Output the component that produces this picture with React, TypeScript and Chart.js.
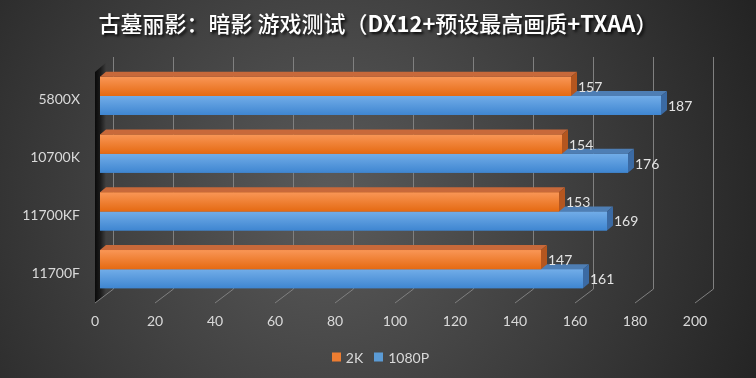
import React, { useEffect, useRef } from "react";
import { Chart, registerables } from "chart.js";
Chart.register(...registerables);

const W = 756;
const H = 378;

const titleText = "古墓丽影：暗影 游戏测试（DX12+预设最高画质+TXAA）";
const categories = ["5800X", "10700K", "11700KF", "11700F"];
const seriesNames = ["2K", "1080P"];
const series2K = [157, 154, 153, 147];
const series1080P = [187, 176, 169, 161];
const xMin = 0;
const xMax = 200;
const xStep = 20;

const FONT = "Lato, 'Noto Sans', sans-serif";
const TEXT_COLOR = "#d9d9d9";

const palette = [
  { legend: "#ED7D31", top: "#C8693A", side: "#B4561F", g0: "#F99656", g1: "#E56A12" },
  { legend: "#5B9BD5", top: "#4E7EB4", side: "#3B6AA3", g0: "#72ADE8", g1: "#3F86D1" },
];

const DX = 6; // bar depth x
const DY = 5; // bar depth y

function splitRuns(s: string) {
  const runs: { text: string; latin: boolean }[] = [];
  for (const ch of s) {
    const latin = /[A-Za-z0-9+]/.test(ch);
    const last = runs[runs.length - 1];
    if (last && last.latin === latin) last.text += ch;
    else runs.push({ text: ch, latin });
  }
  return runs;
}

const decor = {
  id: "decor",
  beforeDraw(chart: any) {
    const { ctx, width, height } = chart;
    ctx.save();
    const g = ctx.createRadialGradient(330, 200, 0, 330, 200, 480);
    g.addColorStop(0, "#5b5b5b");
    g.addColorStop(1, "#222222");
    ctx.fillStyle = g;
    ctx.fillRect(0, 0, width, height);
    ctx.restore();
  },
  beforeDatasetsDraw(chart: any) {
    const { ctx, chartArea: a, scales } = chart;
    const x = scales.x;
    const x0 = x.getPixelForValue(xMin);
    const fb = a.bottom + 5;
    const bb = a.bottom - 9;
    const bt = a.top - 10;
    const ft = a.top + 5;
    ctx.save();
    const lg = ctx.createLinearGradient(x0 - 6, 0, x0 + 6, 0);
    lg.addColorStop(0, "rgba(0,0,0,0.9)");
    lg.addColorStop(0.55, "rgba(0,0,0,0.55)");
    lg.addColorStop(1, "rgba(0,0,0,0)");
    ctx.fillStyle = lg;
    ctx.beginPath();
    ctx.moveTo(x0 - 5, ft);
    ctx.lineTo(x0 + 12.5, bt);
    ctx.lineTo(x0 + 12.5, bb);
    ctx.lineTo(x0 - 5, fb);
    ctx.closePath();
    ctx.fill();
    ctx.strokeStyle = "#808080";
    ctx.lineWidth = 1;
    for (const t of x.ticks) {
      const p = x.getPixelForValue(t.value);
      const bx = Math.round(p + 12.5) + 0.5;
      ctx.beginPath();
      ctx.moveTo(bx, bt);
      ctx.lineTo(bx, bb);
      ctx.lineTo(p - 5, fb);
      ctx.stroke();
    }
    ctx.restore();
  },
  afterDatasetDraw(chart: any, args: any) {
    const { ctx } = chart;
    const col = palette[args.index];
    ctx.save();
    for (const el of args.meta.data) {
      const { x, y, base, height } = el.getProps(["x", "y", "base", "height"], true);
      const l = Math.min(x, base);
      const r = Math.max(x, base);
      const t = y - height / 2;
      const b = y + height / 2;
      const g = ctx.createLinearGradient(0, t, 0, b);
      g.addColorStop(0, col.g0);
      g.addColorStop(1, col.g1);
      ctx.fillStyle = g;
      ctx.fillRect(l, t, r - l, b - t);
      ctx.fillStyle = col.top;
      ctx.beginPath();
      ctx.moveTo(l, t);
      ctx.lineTo(l + DX, t - DY);
      ctx.lineTo(r + DX, t - DY);
      ctx.lineTo(r, t);
      ctx.closePath();
      ctx.fill();
      ctx.fillStyle = col.side;
      ctx.beginPath();
      ctx.moveTo(r, t);
      ctx.lineTo(r + DX, t - DY);
      ctx.lineTo(r + DX, b - DY);
      ctx.lineTo(r, b);
      ctx.closePath();
      ctx.fill();
    }
    ctx.restore();
  },
  afterDatasetsDraw(chart: any) {
    const { ctx } = chart;
    ctx.save();
    ctx.font = `14px ${FONT}`;
    ctx.fillStyle = "#e3e3e3";
    ctx.textAlign = "left";
    ctx.textBaseline = "middle";
    chart.data.datasets.forEach((ds: any, i: number) => {
      const meta = chart.getDatasetMeta(i);
      meta.data.forEach((el: any, j: number) => {
        const { x, y } = el.getProps(["x", "y"], true);
        ctx.fillText(String(ds.data[j]), x + DX + 1, y + 1);
      });
    });
    ctx.restore();
  },
  afterDraw(chart: any) {
    const { ctx } = chart;
    ctx.save();
    const cjkFont = `500 22px 'Noto Sans CJK SC', sans-serif`;
    const latFont = `bold 22px 'Noto Sans CJK SC', 'Open Sans', sans-serif`;
    const runs = splitRuns(titleText);
    const widths = runs.map((r) => {
      ctx.font = r.latin ? latFont : cjkFont;
      return ctx.measureText(r.text).width;
    });
    const total = widths.reduce((a, b) => a + b, 0);
    let tx = 378 - total / 2;
    ctx.textAlign = "left";
    ctx.textBaseline = "middle";
    ctx.shadowColor = "rgba(0,0,0,0.85)";
    ctx.shadowOffsetX = 2;
    ctx.shadowOffsetY = 2;
    ctx.shadowBlur = 3;
    ctx.fillStyle = "#ffffff";
    runs.forEach((r, i) => {
      ctx.font = r.latin ? latFont : cjkFont;
      ctx.fillText(r.text, tx, 24);
      tx += widths[i];
    });
    ctx.restore();

    ctx.save();
    ctx.font = `14px ${FONT}`;
    ctx.textBaseline = "middle";
    ctx.textAlign = "left";
    const box = 9;
    const gap = 5;
    const itemGap = 11;
    const labels = chart.data.datasets.map((d: any) => d.label);
    const lw = labels.map((l: string) => ctx.measureText(l).width);
    let sum = 0;
    lw.forEach((w: number, i: number) => {
      sum += box + gap + w + (i < lw.length - 1 ? itemGap : 0);
    });
    let cx = 380.5 - sum / 2;
    const cy = 357;
    labels.forEach((l: string, i: number) => {
      ctx.fillStyle = palette[i].legend;
      ctx.fillRect(Math.round(cx), cy - 4.5, box, box);
      ctx.fillStyle = TEXT_COLOR;
      ctx.fillText(l, cx + box + gap, cy + 1);
      cx += box + gap + lw[i] + itemGap;
    });
    ctx.restore();
  },
};

export default function App() {
  const ref = useRef<HTMLCanvasElement>(null);
  useEffect(() => {
    const canvas = ref.current!;
    const chart = new Chart(canvas, {
      type: "bar",
      data: {
        labels: categories,
        datasets: [
          { label: seriesNames[0], data: series2K, backgroundColor: palette[0].g1, borderWidth: 0, categoryPercentage: 0.66, barPercentage: 1 },
          { label: seriesNames[1], data: series1080P, backgroundColor: palette[1].g1, borderWidth: 0, categoryPercentage: 0.66, barPercentage: 1 },
        ],
      },
      options: {
        indexAxis: "y",
        animation: false,
        responsive: false,
        devicePixelRatio: 1,
        layout: { padding: { left: 0, right: 56, top: 67, bottom: 40 } },
        plugins: {
          legend: { display: false },
          title: { display: false },
          tooltip: { enabled: false },
        },
        scales: {
          x: {
            min: xMin,
            max: xMax,
            ticks: { stepSize: xStep, color: TEXT_COLOR, font: { family: FONT, size: 14 }, padding: 15, labelOffset: -5 },
            grid: { display: false, drawTicks: false },
            border: { display: false },
            afterFit: (s: any) => {
              s.height = 40;
            },
          },
          y: {
            ticks: { color: TEXT_COLOR, font: { family: FONT, size: 14 }, padding: 20, labelOffset: 4 },
            grid: { display: false, drawTicks: false },
            border: { display: false },
            afterFit: (s: any) => {
              s.width = 100;
            },
          },
        },
      } as any,
      plugins: [decor],
    });
    return () => chart.destroy();
  }, []);
  return (
    <div style={{ position: "fixed", left: 0, top: 0, width: W, height: H }}>
      <canvas ref={ref} width={W} height={H} style={{ width: W, height: H, display: "block" }} />
    </div>
  );
}
